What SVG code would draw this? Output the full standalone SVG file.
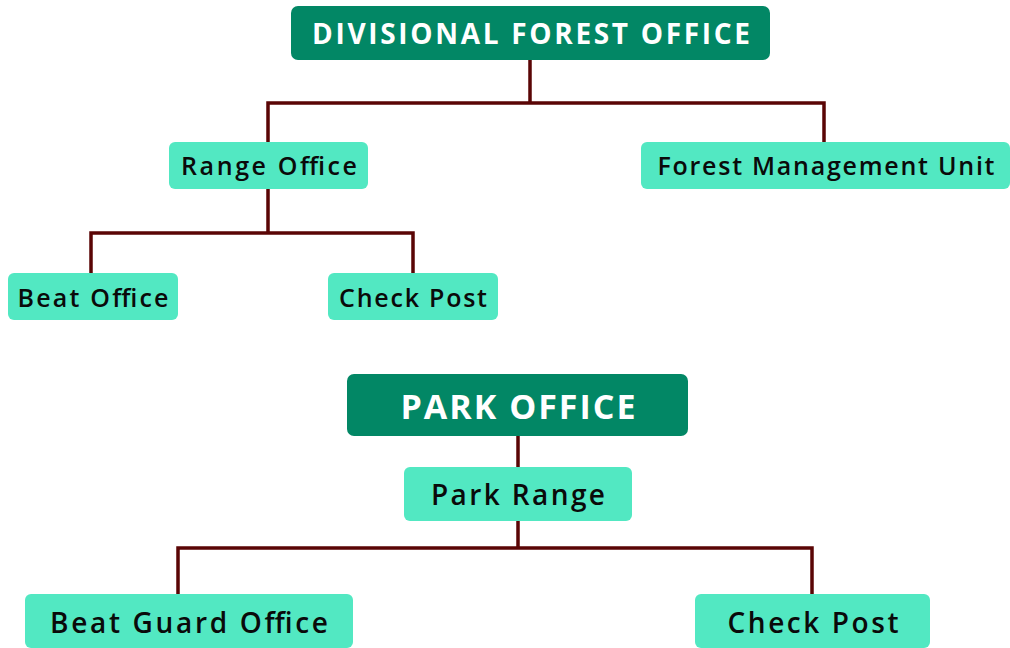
<svg xmlns="http://www.w3.org/2000/svg" width="1010" height="648" viewBox="0 0 1010 648">
<style>
.hd rect{fill:#028765}
.hd text{fill:#ffffff;font-family:"Open Sans","Noto Sans",sans-serif;font-weight:700;text-anchor:middle}
.sb rect{fill:#52e8c2}
.sb text{fill:#0a0a0a;font-family:"Open Sans","Noto Sans",sans-serif;font-weight:600;text-anchor:middle}
.cn{fill:none;stroke:#5a0505;stroke-width:3.5}
</style>
<rect width="1010" height="648" fill="#ffffff"/>
<g id="connectors" class="cn">
<path d="M530 60V103M268 142V103H824V142"/>
<path d="M268 189V233M91 273V233H413V273"/>
<path d="M518 436V467"/>
<path d="M518 521V548M178 594V548H812V594"/>
</g>
<g id="dfo" class="hd"><rect x="291" y="6" width="479" height="54" rx="7"/><text x="531" y="44" font-size="28" textLength="438" lengthAdjust="spacing">DIVISIONAL FOREST OFFICE</text></g>
<g id="range-office" class="sb"><rect x="169" y="142" width="199" height="47" rx="6"/><text x="269" y="175" font-size="25" textLength="176" lengthAdjust="spacing">Range Office</text></g>
<g id="fmu" class="sb"><rect x="641" y="142" width="369" height="47" rx="6"/><text x="826" y="175" font-size="25" textLength="337" lengthAdjust="spacing">Forest Management Unit</text></g>
<g id="beat-office" class="sb"><rect x="8" y="273" width="170" height="47" rx="6"/><text x="93" y="307" font-size="25" textLength="151" lengthAdjust="spacing">Beat Office</text></g>
<g id="check-post-1" class="sb"><rect x="328" y="273" width="170" height="47" rx="6"/><text x="413" y="307" font-size="25" textLength="148" lengthAdjust="spacing">Check Post</text></g>
<g id="park-office" class="hd"><rect x="347" y="374" width="341" height="62" rx="7"/><text x="518" y="419" font-size="34" textLength="235" lengthAdjust="spacing">PARK OFFICE</text></g>
<g id="park-range" class="sb"><rect x="404" y="467" width="228" height="54" rx="6"/><text x="518" y="505" font-size="28" textLength="174" lengthAdjust="spacing">Park Range</text></g>
<g id="beat-guard-office" class="sb"><rect x="25" y="594" width="328" height="54" rx="6"/><text x="189" y="633" font-size="28" textLength="278" lengthAdjust="spacing">Beat Guard Office</text></g>
<g id="check-post-2" class="sb"><rect x="695" y="594" width="235" height="54" rx="6"/><text x="813" y="633" font-size="28" textLength="171" lengthAdjust="spacing">Check Post</text></g>
</svg>
